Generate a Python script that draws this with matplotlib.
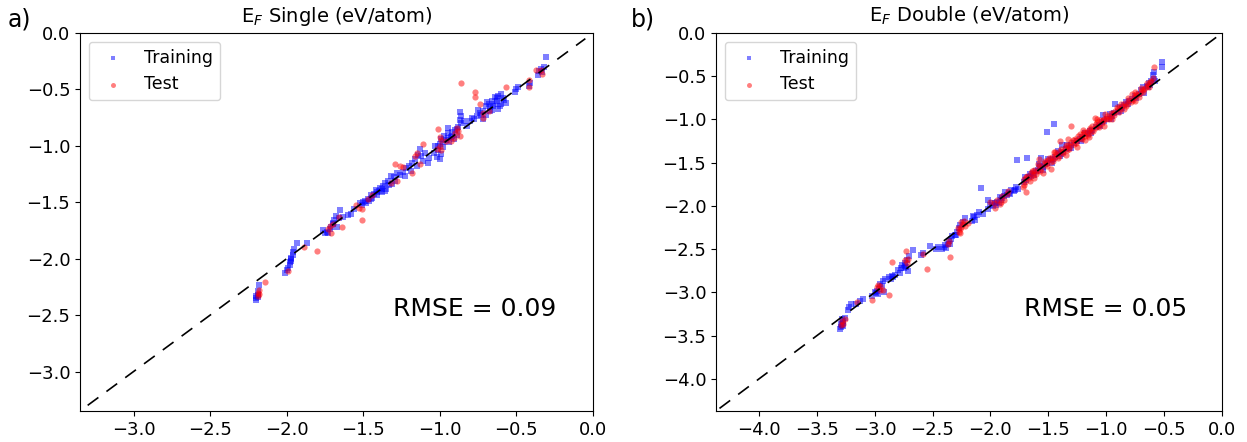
import numpy as np
import matplotlib
matplotlib.use("Agg")
import matplotlib.pyplot as plt

# (DFT, predicted) pairs, eV/atom
single_train = [
    (-0.31, -0.21), (-0.32, -0.30), (-0.34, -0.32), (-0.33, -0.35), (-0.36, -0.37), (-0.35, -0.34),
    (-0.41, -0.44), (-0.42, -0.47), (-0.50, -0.50), (-0.51, -0.52), (-0.49, -0.48),
    (-0.60, -0.54), (-0.62, -0.56), (-0.64, -0.57), (-0.59, -0.58), (-0.63, -0.60), (-0.66, -0.60),
    (-0.60, -0.63), (-0.57, -0.62), (-0.68, -0.63), (-0.65, -0.65), (-0.70, -0.65), (-0.62, -0.67),
    (-0.67, -0.69), (-0.72, -0.69), (-0.74, -0.71), (-0.70, -0.73), (-0.76, -0.74), (-0.72, -0.76),
    (-0.79, -0.75), (-0.66, -0.68), (-0.61, -0.65), (-0.75, -0.68), (-0.64, -0.63), (-0.58, -0.59),
    (-0.69, -0.61), (-0.80, -0.78), (-0.78, -0.76), (-0.63, -0.58), (-0.67, -0.66), (-0.73, -0.73),
    (-0.87, -0.70), (-0.86, -0.74), (-0.87, -0.77), (-0.86, -0.80), (-0.88, -0.83), (-0.90, -0.86),
    (-0.92, -0.88), (-0.95, -0.89), (-0.89, -0.90), (-0.93, -0.92), (-0.97, -0.91), (-0.91, -0.94),
    (-0.96, -0.95), (-0.99, -0.94), (-0.94, -0.97), (-1.00, -0.98), (-0.98, -1.01), (-1.03, -1.00),
    (-1.01, -1.04), (-1.04, -1.06), (-0.99, -1.07), (-1.02, -1.10), (-1.00, -1.12), (-1.08, -1.15),
    (-0.95, -0.84), (-0.89, -0.85), (-0.82, -0.82), (-0.84, -0.78), (-0.92, -0.91), (-0.95, -0.93),
    (-0.98, -0.97), (-1.01, -1.00),
    (-1.10, -1.06), (-1.12, -1.09), (-1.14, -1.08), (-1.11, -1.13), (-1.16, -1.12), (-1.18, -1.15),
    (-1.15, -1.18), (-1.20, -1.18), (-1.22, -1.20), (-1.19, -1.22), (-1.24, -1.23), (-1.26, -1.26),
    (-1.23, -1.27), (-1.28, -1.24), (-1.30, -1.28), (-1.32, -1.27), (-1.29, -1.31), (-1.34, -1.31),
    (-1.31, -1.34), (-1.36, -1.33), (-1.07, -1.11), (-1.13, -1.03),
    (-1.37, -1.36), (-1.35, -1.38), (-1.39, -1.37), (-1.40, -1.40), (-1.38, -1.41), (-1.42, -1.39),
    (-1.43, -1.43), (-1.41, -1.44), (-1.45, -1.44), (-1.44, -1.46), (-1.47, -1.47), (-1.46, -1.49),
    (-1.49, -1.49), (-1.48, -1.51), (-1.50, -1.50), (-1.51, -1.52), (-1.52, -1.51), (-1.33, -1.35),
    (-1.36, -1.40), (-1.38, -1.38), (-1.41, -1.41), (-1.45, -1.47),
    (-1.56, -1.56), (-1.60, -1.61), (-1.58, -1.60), (-1.65, -1.57), (-1.63, -1.63), (-1.66, -1.64),
    (-1.68, -1.62), (-1.69, -1.66), (-1.70, -1.69), (-1.71, -1.72), (-1.72, -1.74), (-1.74, -1.76),
    (-1.75, -1.77), (-1.76, -1.75), (-1.73, -1.77), (-1.67, -1.72), (-1.70, -1.68),
    (-1.93, -1.86), (-1.87, -1.86), (-1.95, -1.91), (-1.96, -1.94), (-1.96, -1.97), (-1.97, -2.00),
    (-1.98, -2.03), (-1.98, -2.06), (-1.99, -2.08), (-2.00, -2.10), (-2.01, -2.13), (-1.97, -1.99),
    (-1.97, -2.02),
    (-2.18, -2.23), (-2.19, -2.29), (-2.19, -2.32), (-2.20, -2.35), (-2.20, -2.37), (-2.19, -2.34),
    (-2.20, -2.33),
]
single_test = [
    (-0.34, -0.33), (-0.37, -0.33), (-0.33, -0.36), (-0.42, -0.42), (-0.42, -0.48), (-0.57, -0.48),
    (-0.86, -0.44), (-0.77, -0.52), (-0.77, -0.57), (-0.74, -0.63), (-0.72, -0.71), (-0.72, -0.75),
    (-0.68, -0.69), (-0.89, -0.84), (-0.88, -0.87), (-0.90, -0.89), (-0.87, -0.91), (-0.91, -0.93),
    (-0.93, -0.96), (-0.96, -0.96), (-1.01, -0.85), (-1.00, -0.92), (-0.99, -0.95), (-1.00, -1.00),
    (-1.02, -1.03), (-0.99, -1.04), (-1.11, -0.98), (-1.15, -1.06), (-1.16, -1.09), (-1.13, -1.16),
    (-1.29, -1.16), (-1.26, -1.18), (-1.24, -1.19), (-1.18, -1.24), (-1.28, -1.31), (-1.32, -1.33),
    (-1.44, -1.44), (-1.47, -1.47), (-1.55, -1.52), (-1.53, -1.55), (-1.51, -1.56), (-1.51, -1.66),
    (-1.64, -1.72), (-1.66, -1.63), (-1.70, -1.69), (-1.72, -1.71), (-1.73, -1.74), (-1.71, -1.77),
    (-1.80, -1.93), (-1.89, -1.90), (-1.99, -2.11), (-2.14, -2.21), (-2.18, -2.28), (-2.19, -2.30),
    (-2.19, -2.33), (-2.18, -2.31),
]
double_train = [
    (-0.52, -0.34), (-0.52, -0.39), (-0.59, -0.45), (-0.60, -0.49), (-0.59, -0.53), (-0.61, -0.56),
    (-0.63, -0.58), (-0.62, -0.60), (-0.65, -0.61), (-0.68, -0.63), (-0.70, -0.66), (-0.67, -0.69),
    (-0.72, -0.71), (-0.75, -0.73), (-0.78, -0.76), (-0.80, -0.79), (-0.83, -0.80), (-0.85, -0.83),
    (-0.86, -0.87), (-0.88, -0.86), (-0.90, -0.91), (-0.93, -0.92), (-0.95, -0.96), (-0.97, -0.94),
    (-0.99, -1.00), (-1.02, -1.02), (-1.04, -1.03), (-1.06, -1.06), (-1.09, -1.09), (-1.12, -1.12),
    (-1.14, -1.13), (-1.16, -1.17), (-1.18, -1.16), (-1.21, -1.20), (-1.23, -1.22), (-1.25, -1.25),
    (-1.28, -1.27), (-1.30, -1.30), (-1.32, -1.33), (-1.35, -1.34), (-1.37, -1.37), (-1.39, -1.40),
    (-1.41, -1.39), (-1.44, -1.43), (-1.46, -1.46), (-1.48, -1.47), (-1.51, -1.50), (-1.53, -1.52),
    (-1.55, -1.55), (-1.57, -1.54), (-1.59, -1.58), (-1.61, -1.60), (-1.63, -1.62), (-1.65, -1.65),
    (-1.67, -1.67), (-1.69, -1.70), (-1.71, -1.72),
    (-0.58, -0.55), (-0.64, -0.63), (-0.74, -0.75), (-0.81, -0.82), (-0.87, -0.90), (-0.96, -0.99),
    (-1.05, -1.08), (-1.13, -1.16), (-1.22, -1.25), (-1.30, -1.33), (-1.40, -1.42), (-1.47, -1.50),
    (-1.55, -1.58), (-1.62, -1.64), (-1.66, -1.63), (-1.70, -1.66), (-1.58, -1.52), (-1.50, -1.46),
    (-1.42, -1.36), (-1.34, -1.30),
    (-1.45, -1.05), (-1.51, -1.15), (-1.77, -1.47), (-1.68, -1.45), (-2.08, -1.79), (-0.92, -0.82),
    (-1.03, -0.95), (-1.56, -1.45), (-1.38, -1.30),
    (-1.76, -1.80), (-1.78, -1.78), (-1.80, -1.83), (-1.82, -1.82), (-1.84, -1.85), (-1.86, -1.87),
    (-1.88, -1.88), (-1.90, -1.91), (-1.92, -1.90), (-1.94, -1.95), (-1.96, -1.97), (-1.98, -2.00),
    (-2.00, -1.99), (-2.02, -2.03), (-1.93, -1.96), (-2.02, -1.93), (-1.79, -1.82), (-1.83, -1.86),
    (-1.87, -1.84), (-1.91, -1.93), (-1.95, -1.99), (-1.99, -1.97),
    (-2.10, -2.07), (-2.12, -2.10), (-2.14, -2.13), (-2.13, -2.16), (-2.16, -2.17), (-2.06, -2.09),
    (-2.15, -2.12),
    (-2.22, -2.14), (-2.24, -2.18), (-2.26, -2.22), (-2.27, -2.26), (-2.29, -2.30), (-2.31, -2.33),
    (-2.33, -2.35), (-2.34, -2.38), (-2.36, -2.41), (-2.37, -2.44), (-2.38, -2.48), (-2.40, -2.47),
    (-2.42, -2.50), (-2.47, -2.50), (-2.52, -2.46), (-2.45, -2.47), (-2.30, -2.33), (-2.35, -2.44),
    (-2.39, -2.45),
    (-2.58, -2.54), (-2.60, -2.57), (-2.67, -2.51), (-2.70, -2.58), (-2.72, -2.62), (-2.74, -2.66),
    (-2.73, -2.70), (-2.75, -2.72), (-2.76, -2.68), (-2.71, -2.75), (-2.78, -2.78), (-2.80, -2.74),
    (-2.82, -2.80), (-2.84, -2.82), (-2.88, -2.82), (-2.91, -2.84), (-2.93, -2.87), (-2.95, -2.90),
    (-2.94, -2.93), (-2.96, -2.96), (-2.98, -2.98), (-3.00, -3.00), (-2.97, -3.02), (-3.02, -3.04),
    (-2.92, -2.99), (-2.85, -2.81), (-2.74, -2.69), (-2.77, -2.72), (-2.86, -2.84), (-2.99, -3.01),
    (-3.10, -3.08), (-3.13, -3.10), (-3.16, -3.13), (-3.20, -3.13), (-3.22, -3.17), (-3.23, -3.20),
    (-3.26, -3.29), (-3.27, -3.33), (-3.28, -3.37), (-3.29, -3.40), (-3.30, -3.42), (-3.28, -3.31),
    (-3.27, -3.35), (-3.27, -3.39), (-3.29, -3.36),
]
double_test = [
    (-0.59, -0.39), (-0.60, -0.52), (-0.62, -0.57), (-0.64, -0.60), (-0.66, -0.63), (-0.67, -0.65),
    (-0.69, -0.66), (-0.71, -0.69), (-0.73, -0.72), (-0.74, -0.70), (-0.76, -0.74), (-0.77, -0.78),
    (-0.80, -0.77), (-0.82, -0.82), (-0.84, -0.81), (-0.86, -0.84), (-0.88, -0.88), (-0.90, -0.87),
    (-0.92, -0.90), (-0.94, -0.93), (-0.96, -0.92), (-0.97, -0.97), (-0.99, -0.96), (-1.00, -1.00),
    (-1.02, -0.99), (-1.04, -1.04), (-1.05, -1.01), (-1.07, -1.07), (-1.09, -1.05), (-1.10, -1.10),
    (-1.12, -1.08), (-1.13, -1.14), (-1.15, -1.12), (-1.17, -1.15), (-1.18, -1.19), (-1.20, -1.17),
    (-1.22, -1.21), (-1.24, -1.19), (-1.25, -1.24), (-1.27, -1.23), (-1.28, -1.28), (-1.30, -1.26),
    (-1.31, -1.31), (-1.33, -1.29), (-1.34, -1.35), (-1.36, -1.33), (-1.38, -1.38), (-1.40, -1.36),
    (-1.41, -1.42), (-1.43, -1.40), (-1.45, -1.45), (-1.47, -1.43), (-1.48, -1.49), (-1.50, -1.47),
    (-1.52, -1.52), (-1.54, -1.50), (-1.56, -1.56), (-1.58, -1.54), (-1.60, -1.60), (-1.62, -1.58),
    (-1.63, -1.64), (-1.65, -1.62), (-1.67, -1.68), (-1.68, -1.65), (-1.70, -1.72), (-1.71, -1.76),
    (-1.69, -1.84),
    (-0.61, -0.55), (-0.63, -0.62), (-0.65, -0.58), (-0.68, -0.68), (-0.70, -0.64), (-0.72, -0.74),
    (-0.75, -0.68), (-0.79, -0.80), (-0.81, -0.75), (-0.83, -0.84), (-0.87, -0.82), (-0.89, -0.91),
    (-0.91, -0.85), (-0.93, -0.95), (-0.98, -0.99), (-1.01, -0.94), (-1.03, -1.01), (-1.06, -1.09),
    (-1.08, -1.03), (-1.11, -1.13), (-1.14, -1.10), (-1.16, -1.18), (-1.19, -1.14), (-1.21, -1.23),
    (-1.23, -1.17), (-1.26, -1.27), (-1.29, -1.24), (-1.32, -1.34), (-1.35, -1.30), (-1.37, -1.39),
    (-1.39, -1.34), (-1.42, -1.44), (-1.44, -1.38), (-1.46, -1.48), (-1.49, -1.45), (-1.51, -1.54),
    (-1.53, -1.48), (-1.57, -1.59), (-1.59, -1.52), (-1.61, -1.63), (-1.64, -1.60), (-1.66, -1.71),
    (-1.69, -1.67), (-1.71, -1.69), (-1.72, -1.78),
    (-1.30, -1.07), (-1.58, -1.46), (-1.40, -1.25), (-1.55, -1.62), (-1.48, -1.57), (-1.35, -1.41),
    (-1.10, -0.98), (-1.18, -1.24), (-0.95, -1.00), (-0.85, -0.88), (-1.25, -1.32), (-1.62, -1.68),
    (-1.45, -1.37), (-1.15, -1.20), (-1.02, -1.07), (-0.75, -0.79), (-0.78, -0.71), (-1.08, -1.00),
    (-1.20, -1.12), (-1.33, -1.22),
    (-1.88, -1.93), (-1.91, -1.95), (-1.94, -1.93), (-1.96, -2.02), (-1.86, -1.86), (-2.00, -1.95),
    (-1.90, -1.89), (-1.92, -1.98), (-1.97, -1.96), (-1.85, -1.83),
    (-2.23, -2.17), (-2.24, -2.21), (-2.25, -2.24), (-2.26, -2.27), (-2.27, -2.30), (-2.19, -2.20),
    (-2.22, -2.23), (-2.25, -2.19), (-2.28, -2.26), (-2.26, -2.31),
    (-2.36, -2.40), (-2.37, -2.44), (-2.35, -2.59), (-2.55, -2.73), (-2.58, -2.55), (-2.73, -2.52),
    (-2.71, -2.61), (-2.72, -2.66), (-2.74, -2.63), (-2.85, -2.65), (-2.88, -3.03), (-3.02, -3.09),
    (-2.95, -2.93), (-2.93, -2.97), (-2.97, -2.91), (-2.95, -2.97), (-2.98, -2.94), (-3.15, -3.11),
    (-3.28, -3.33), (-3.27, -3.36), (-3.29, -3.38), (-3.26, -3.31),
]

panels = [
    ("a)", r"E$_F$ Single (eV/atom)", single_train, single_test, "RMSE = 0.09", -3.35, -3.3),
    ("b)", r"E$_F$ Double (eV/atom)", double_train, double_test, "RMSE = 0.05", -4.37, -4.34),
]

fig = plt.figure(figsize=(12.47, 4.42), dpi=100)
lefts = [80 / 1247, 716 / 1247]
widths = [513 / 1247, 506 / 1247]
label_x = [0.006, 0.506]

for i, (tag, title, train, test, rmse, lo, line_lo) in enumerate(panels):
    ax = fig.add_axes([lefts[i], 31 / 442, widths[i], 378 / 442])
    tr = np.array(train)
    te = np.array(test)
    ax.scatter(tr[:, 0], tr[:, 1], s=17, marker="s", color="blue", alpha=0.5,
               linewidths=0, label="Training")
    ax.scatter(te[:, 0], te[:, 1], s=20, marker="o", color="red", alpha=0.5,
               linewidths=0, label="Test")
    ax.plot([line_lo, -0.05], [line_lo, -0.05], "k--", lw=1.2, dashes=(8, 6))
    ax.set_xlim(lo, 0)
    ax.set_ylim(lo, 0)
    ticks = np.arange(0, lo, -0.5)
    ax.set_xticks(ticks)
    ax.set_yticks(ticks)
    ax.tick_params(labelsize=13)
    ax.set_title(title, fontsize=14, pad=8)
    ax.text(0.77, 0.27, rmse, transform=ax.transAxes, fontsize=18, ha="center", va="center")
    ax.legend(loc="upper left", fontsize=12.5, scatterpoints=1, markerscale=0.8)
    fig.text(label_x[i], 0.957, tag, fontsize=17, va="center")

fig.savefig("out.png", dpi=100)
